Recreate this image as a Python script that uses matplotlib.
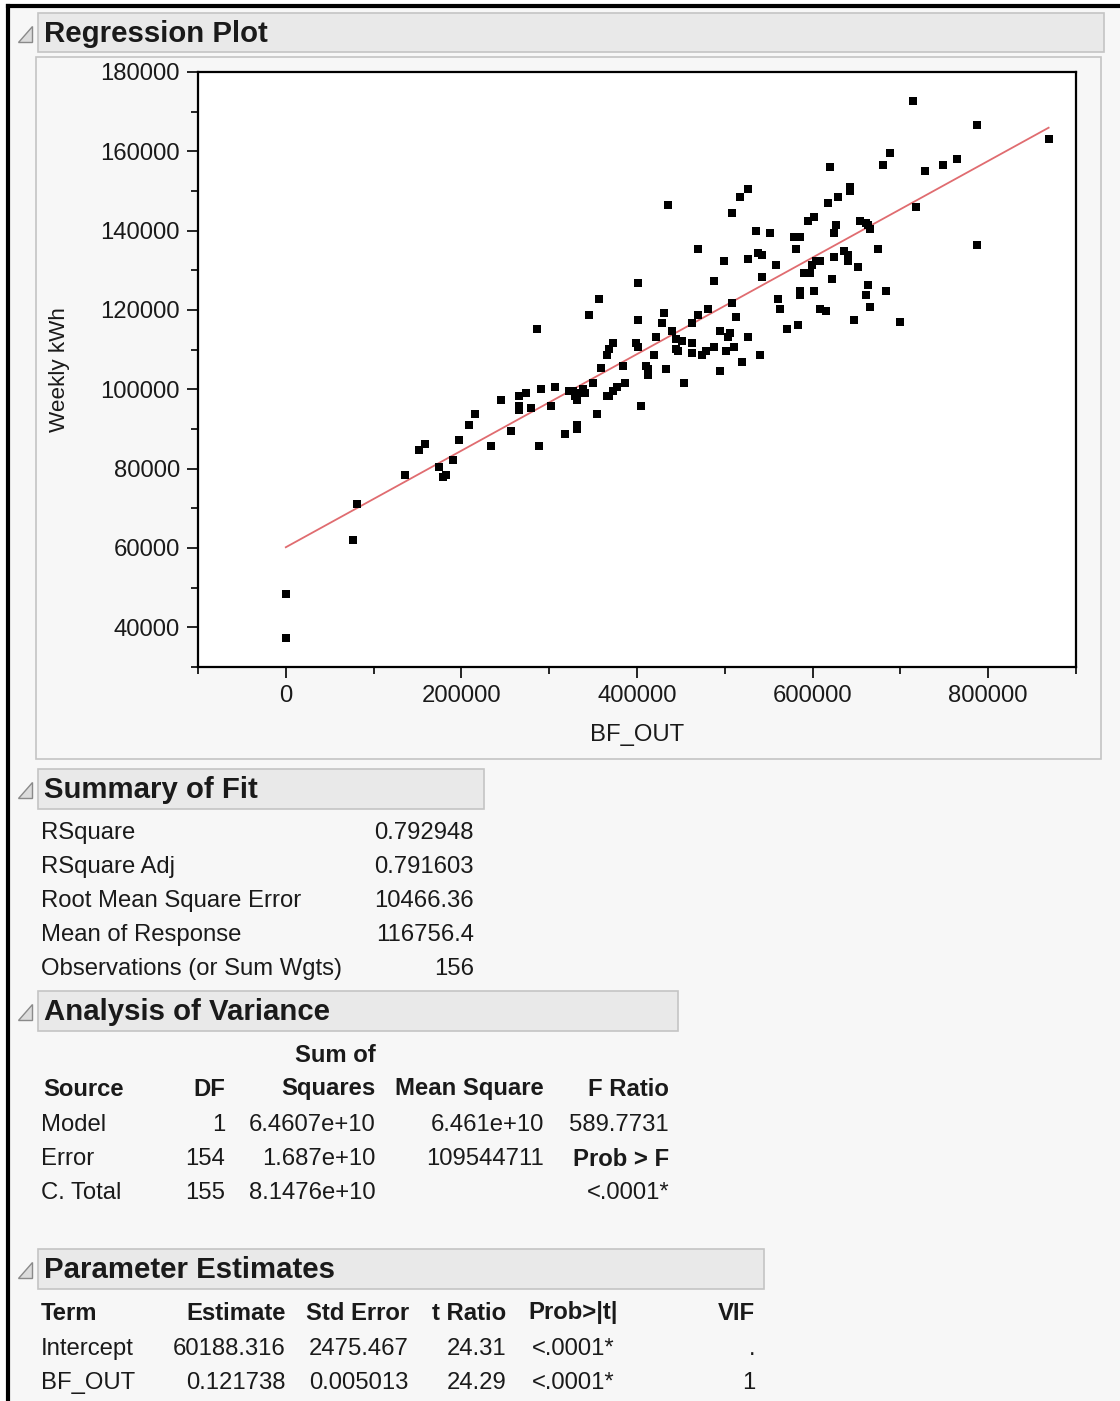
import numpy as np
import matplotlib
matplotlib.use("Agg")
import matplotlib.pyplot as plt
from matplotlib.patches import Rectangle, Polygon
from matplotlib.ticker import MultipleLocator

plt.rcParams['font.family'] = ['Liberation Sans', 'DejaVu Sans']

# scatter data (BF_OUT, Weekly kWh)
bf_out = [0, 0, 76800, 81400, 135800, 151800, 158600, 175000, 179500, 182000,
          190600, 197400, 209200, 215700, 234000, 245400, 256800, 265500, 273100, 265500,
          265500, 279600, 286400, 288700, 291000, 302400, 307000, 318400, 323000, 329800,
          332100, 336600, 341200, 338900, 327500, 332100, 332100, 345800, 350300, 354900,
          357200, 359500, 366300, 368600, 373200, 377700, 386900, 366300, 368600, 373200,
          384600, 398300, 400600, 400600, 404000, 435500, 469400, 508600, 517300, 526500,
          535200, 551600, 499100, 526500, 537900, 542400, 558400, 487700, 542400, 561100,
          563400, 571400, 508600, 480800, 469400, 512800, 462200, 430600, 428300, 439400,
          421500, 443900, 450800, 443900, 446200, 400600, 419200, 462200, 462200, 473600,
          478200, 487700, 494500, 503600, 505900, 501400, 510500, 526500, 519700, 540200,
          494500, 453700, 432900, 409700, 412300, 412300, 714000, 787100, 868800, 688500,
          679800, 620000, 727700, 748300, 764300, 642900, 642900, 629200, 617800, 718200,
          594900, 601800, 653500, 660400, 662700, 665000, 626800, 624500, 578900, 585800,
          581200, 636000, 640500, 640500, 624500, 652000, 674800, 608600, 604100, 599500,
          590300, 597200, 622300, 787100, 663400, 585800, 585800, 601800, 661100, 683900,
          608600, 615500, 665700, 647400, 699900, 583500]
weekly_kwh = [48400, 37400, 62100, 71100, 78300, 84800, 86300, 80400, 77800, 78300,
              82300, 87300, 90900, 93900, 85800, 97400, 89400, 98400, 99000, 95900,
              94800, 95400, 115100, 85800, 100000, 95900, 100500, 88800, 99500, 98400,
              97200, 99000, 99000, 100000, 99500, 91100, 90100, 118700, 101500, 93900,
              122700, 105500, 98400, 98400, 99500, 100500, 101500, 108600, 110100, 111600,
              106000, 111600, 117600, 126700, 95900, 146400, 135300, 144400, 148500, 150500,
              139900, 139300, 132300, 132800, 134300, 133800, 131300, 127300, 128200, 122700,
              120200, 115100, 121700, 120200, 118700, 118200, 116600, 119200, 116600, 114600,
              113100, 112600, 112100, 110100, 109600, 110600, 108600, 111600, 109100, 108600,
              109600, 110600, 114600, 113100, 114100, 109600, 110600, 113100, 107000, 108600,
              104500, 101500, 105000, 106000, 105000, 103500, 172700, 166600, 163100, 159600,
              156500, 156000, 155000, 156500, 158000, 151000, 150000, 148500, 146900, 145900,
              142400, 143400, 142400, 141900, 141400, 140400, 141400, 139400, 138400, 138400,
              135300, 134800, 133800, 132300, 133300, 130800, 135300, 132300, 132300, 131300,
              129300, 129300, 127700, 136300, 126200, 124700, 123700, 124700, 123700, 124700,
              120200, 119700, 120700, 117600, 117100, 116100]

intercept = 60188.316
slope = 0.121738

fit_labels = ["RSquare", "RSquare Adj", "Root Mean Square Error", "Mean of Response",
              "Observations (or Sum Wgts)"]
fit_values = ["0.792948", "0.791603", "10466.36", "116756.4", "156"]

anova_source = ["Model", "Error", "C. Total"]
anova_df = ["1", "154", "155"]
anova_ss = ["6.4607e+10", "1.687e+10", "8.1476e+10"]
anova_ms = ["6.461e+10", "109544711", ""]
anova_f = ["589.7731", "Prob > F", "<.0001*"]

terms = ["Intercept", "BF_OUT"]
estimates = ["60188.316", "0.121738"]
std_errors = ["2475.467", "0.005013"]
t_ratios = ["24.31", "24.29"]
p_values = ["<.0001*", "<.0001*"]
vifs = [".", "1"]

W, H = 1120, 1401
fig = plt.figure(figsize=(W / 100, H / 100), dpi=100)
fig.patch.set_facecolor("white")

# background canvas in pixel coordinates
bg = fig.add_axes([0, 0, 1, 1])
bg.set_xlim(0, W)
bg.set_ylim(H, 0)
bg.axis("off")

FS = 17.2
HFS = 21.2
TXT = "#1a1a1a"

bg.add_patch(Rectangle((8, 6), W, H, facecolor="#f7f7f7", edgecolor="none"))
bg.plot([8, 8], [6, H], color="black", lw=3)
bg.plot([8, W], [6, 6], color="black", lw=3)


def header(x0, y0, x1, y1, title):
    bg.add_patch(Rectangle((x0, y0), x1 - x0, y1 - y0, facecolor="#e9e9e9",
                           edgecolor="#c4c4c4", lw=1.2))
    ym = (y0 + y1) / 2
    bg.add_patch(Polygon([(18, ym + 9), (32, ym + 9), (32, ym - 7)], closed=True,
                         facecolor="#dcdcdc", edgecolor="#8a8a8a", lw=1))
    bg.text(x0 + 6, ym + 1, title, fontsize=HFS, fontweight="bold", color=TXT,
            va="center", ha="left")


# regression plot panel
header(38, 13, 1104, 52, "Regression Plot")
bg.add_patch(Rectangle((36, 57), 1065, 702, facecolor="#f7f7f7", edgecolor="#c4c4c4", lw=1.2))

ax = fig.add_axes([198 / W, 1 - 667 / H, 878 / W, 595 / H])
ax.set_facecolor("white")
ax.scatter(bf_out, weekly_kwh, marker="s", s=30, color="black", linewidths=0, zorder=3)
xs = np.array([0, max(bf_out)])
ax.plot(xs, intercept + slope * xs, color="#e06c70", lw=1.3, zorder=2)
ax.set_xlim(-100000, 900000)
ax.set_ylim(30000, 180000)
ax.xaxis.set_minor_locator(MultipleLocator(100000))
ax.yaxis.set_minor_locator(MultipleLocator(10000))
ax.set_xticks([0, 200000, 400000, 600000, 800000])
ax.set_yticks(range(40000, 180001, 20000))
ax.tick_params(which="major", length=8, width=1.2, labelsize=FS, colors="black",
               labelcolor=TXT, pad=5)
ax.tick_params(which="minor", length=5, width=1.2)
for s in ax.spines.values():
    s.set_linewidth(1.6)
ax.set_xlabel("BF_OUT", fontsize=FS, color=TXT)
ax.set_ylabel("Weekly kWh", fontsize=FS - 1, color=TXT)
ax.xaxis.set_label_coords(0.5, -0.095)
ax.yaxis.set_label_coords(-0.146, 0.5)

# summary of fit
header(38, 769, 484, 809, "Summary of Fit")
for i, (lab, val) in enumerate(zip(fit_labels, fit_values)):
    y = 833 + 34 * i
    bg.text(41, y, lab, fontsize=FS, color=TXT, va="center", ha="left")
    bg.text(474, y, val, fontsize=FS, color=TXT, va="center", ha="right")

# analysis of variance
header(38, 991, 678, 1031, "Analysis of Variance")
bg.text(335, 1055, "Sum of", fontsize=FS, fontweight="bold", color=TXT, va="center", ha="center")
hy = 1089
bg.text(43, hy, "Source", fontsize=FS, fontweight="bold", color=TXT, va="center", ha="left")
bg.text(225, hy, "DF", fontsize=FS, fontweight="bold", color=TXT, va="center", ha="right")
bg.text(376, hy, "Squares", fontsize=FS, fontweight="bold", color=TXT, va="center", ha="right")
bg.text(544, hy, "Mean Square", fontsize=FS, fontweight="bold", color=TXT, va="center", ha="right")
bg.text(669, hy, "F Ratio", fontsize=FS, fontweight="bold", color=TXT, va="center", ha="right")
for i in range(3):
    y = 1125 + 34 * i
    bg.text(41, y, anova_source[i], fontsize=FS, color=TXT, va="center", ha="left")
    bg.text(225, y, anova_df[i], fontsize=FS, color=TXT, va="center", ha="right")
    bg.text(376, y, anova_ss[i], fontsize=FS, color=TXT, va="center", ha="right")
    bg.text(544, y, anova_ms[i], fontsize=FS, color=TXT, va="center", ha="right")
    bg.text(669, y, anova_f[i], fontsize=FS, color=TXT, va="center", ha="right",
            fontweight="bold" if anova_f[i] == "Prob > F" else "normal")

# parameter estimates
header(38, 1249, 764, 1289, "Parameter Estimates")
py = 1313
bg.text(41, py, "Term", fontsize=FS, fontweight="bold", color=TXT, va="center", ha="left")
bg.text(286, py, "Estimate", fontsize=FS, fontweight="bold", color=TXT, va="center", ha="right")
bg.text(409, py, "Std Error", fontsize=FS, fontweight="bold", color=TXT, va="center", ha="right")
bg.text(506, py, "t Ratio", fontsize=FS, fontweight="bold", color=TXT, va="center", ha="right")
bg.text(528, py, "Prob>|t|", fontsize=FS, fontweight="bold", color=TXT, va="center", ha="left")
bg.text(755, py, "VIF", fontsize=FS, fontweight="bold", color=TXT, va="center", ha="right")
for i in range(2):
    y = 1349 + 34 * i
    bg.text(41, y, terms[i], fontsize=FS, color=TXT, va="center", ha="left")
    bg.text(286, y, estimates[i], fontsize=FS, color=TXT, va="center", ha="right")
    bg.text(409, y, std_errors[i], fontsize=FS, color=TXT, va="center", ha="right")
    bg.text(506, y, t_ratios[i], fontsize=FS, color=TXT, va="center", ha="right")
    bg.text(532, y, p_values[i], fontsize=FS, color=TXT, va="center", ha="left")
    bg.text(755, y, vifs[i], fontsize=FS, color=TXT, va="center", ha="right")

fig.savefig("out.png", dpi=100, facecolor=fig.get_facecolor())
